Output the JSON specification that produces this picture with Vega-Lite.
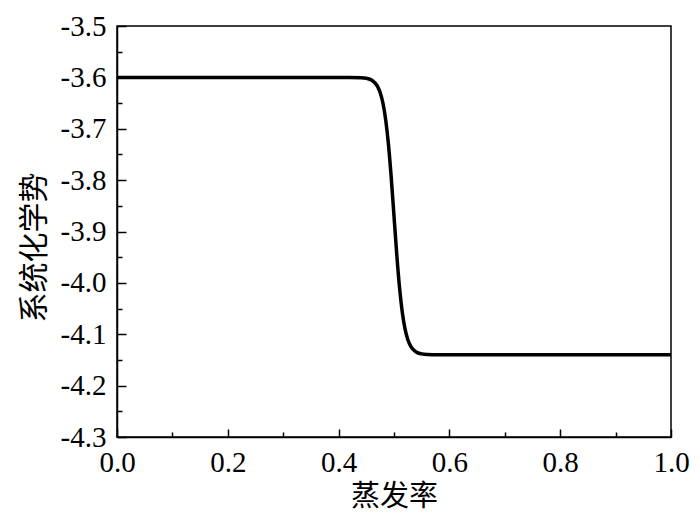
{
  "$schema": "https://vega.github.io/schema/vega-lite/v6.json",
  "width": 554,
  "height": 411,
  "autosize": {"type": "none"},
  "padding": {"left": 117, "top": 26, "right": 29, "bottom": 88},
  "background": "white",
  "config": {
    "view": {"stroke": "black", "strokeWidth": 1.5},
    "axis": {
      "domainColor": "black",
      "domainWidth": 1.5,
      "tickColor": "black",
      "tickWidth": 1.5,
      "grid": false,
      "labelColor": "black",
      "titleFontWeight": "normal",
      "titleColor": "black"
    }
  },
  "data": {
    "values": [
      {"x": 0.0, "y": -3.6},
      {"x": 0.1, "y": -3.6},
      {"x": 0.2, "y": -3.6},
      {"x": 0.3, "y": -3.6},
      {"x": 0.4, "y": -3.6},
      {"x": 0.42, "y": -3.6001},
      {"x": 0.44, "y": -3.6006},
      {"x": 0.45, "y": -3.6018},
      {"x": 0.46, "y": -3.6055},
      {"x": 0.47, "y": -3.6169},
      {"x": 0.475, "y": -3.6293},
      {"x": 0.48, "y": -3.6499},
      {"x": 0.485, "y": -3.6825},
      {"x": 0.49, "y": -3.7306},
      {"x": 0.495, "y": -3.7949},
      {"x": 0.5, "y": -3.87},
      {"x": 0.505, "y": -3.9451},
      {"x": 0.51, "y": -4.0094},
      {"x": 0.515, "y": -4.0575},
      {"x": 0.52, "y": -4.0901},
      {"x": 0.525, "y": -4.1107},
      {"x": 0.53, "y": -4.1231},
      {"x": 0.54, "y": -4.1345},
      {"x": 0.55, "y": -4.1382},
      {"x": 0.56, "y": -4.1394},
      {"x": 0.58, "y": -4.14},
      {"x": 0.6, "y": -4.14},
      {"x": 0.7, "y": -4.14},
      {"x": 0.8, "y": -4.14},
      {"x": 0.9, "y": -4.14},
      {"x": 1.0, "y": -4.14}
    ]
  },
  "mark": {"type": "line", "color": "black", "strokeWidth": 3.5, "interpolate": "monotone", "clip": true},
  "encoding": {
    "x": {
      "field": "x",
      "type": "quantitative",
      "scale": {"domain": [0, 1], "nice": false, "zero": false},
      "axis": {
        "title": "蒸发率",
        "titleFont": "Noto Sans CJK SC",
        "titleFontSize": 29,
        "labelFont": "Times New Roman, Liberation Serif, DejaVu Serif, serif",
        "labelFontSize": 29,
        "values": [0, 0.1, 0.2, 0.3, 0.4, 0.5, 0.6, 0.7, 0.8, 0.9, 1.0],
        "labelExpr": "abs(round(datum.value * 10) % 2) == 0 ? format(datum.value, '.1f') : ''",
        "tickSize": {"condition": {"test": "abs(round(datum.value * 10) % 2) == 1", "value": -5}, "value": -8},
        "labelPadding": 19,
        "labelFlush": false,
        "labelOverlap": false,
        "titleX": 277,
        "titleY": 59,
        "titleBaseline": "middle",
        "titleAlign": "center"
      }
    },
    "y": {
      "field": "y",
      "type": "quantitative",
      "scale": {"domain": [-4.3, -3.5], "nice": false, "zero": false},
      "axis": {
        "title": "系统化学势",
        "titleFont": "Noto Sans CJK SC",
        "titleFontSize": 30,
        "labelFont": "Times New Roman, Liberation Serif, DejaVu Serif, serif",
        "labelFontSize": 29,
        "values": [-4.3, -4.25, -4.2, -4.15, -4.1, -4.05, -4.0, -3.95, -3.9, -3.85, -3.8, -3.75, -3.7, -3.65, -3.6, -3.55, -3.5],
        "labelExpr": "abs(round(datum.value * 20) % 2) == 0 ? replace(format(datum.value, '.1f'), '−', '-') : ''",
        "tickSize": {"condition": {"test": "abs(round(datum.value * 20) % 2) == 1", "value": -5}, "value": -9},
        "labelPadding": 20,
        "labelFlush": false,
        "labelOverlap": false,
        "titleX": -83,
        "titleY": 221,
        "titleAngle": -90,
        "titleBaseline": "middle",
        "titleAlign": "center"
      }
    }
  }
}
